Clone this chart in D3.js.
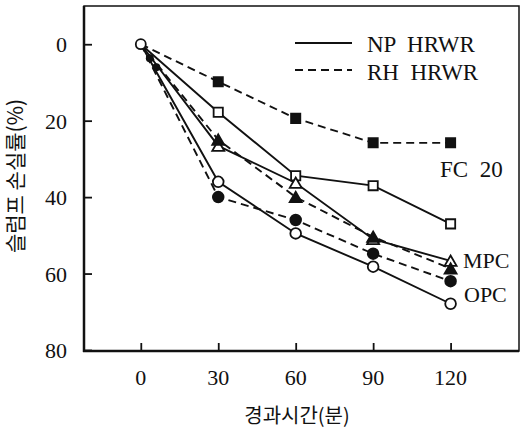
<!DOCTYPE html>
<html>
<head>
    <meta charset="utf-8">
    <title>Slump loss</title>
    <style>
        body { margin: 0; background: #fff; }
        text { font-family: "Liberation Serif", "DejaVu Serif", serif; fill: #111; }
        .kr { font-family: "Noto Sans CJK KR", sans-serif; }
    </style>
    <script src="https://d3js.org/d3.v7.min.js"></script>
</head>
<body>
<div id="chart"></div>
<script>
// elapsed time (min)
var times = [0, 30, 60, 90, 120];
var xTicks = [0, 30, 60, 90, 120];
var yTicks = [0, 20, 40, 60, 80];

// slump loss (%)
var opcNP = [0, 36, 49.5, 58.2, 67.9];
var opcRH = [0, 40, 46, 54.8, 62];
var mpcNP = [0, 26.6, 36.3, 51, 56.7];
var mpcRH = [0, 25, 40, 50.4, 58.7];
var fcNP  = [0, 17.8, 34.4, 37, 47];
var fcRH  = [0, 9.8, 19.4, 25.8, 25.8];

// the small filled marks just after the start
var earlyTimes = [3.5, 6];
var earlyVals = [3.7, 6];

var series = [
    { name: 'FC 20 NP', values: fcNP, dash: false, shape: 'square', filled: false },
    { name: 'FC 20 RH', values: fcRH, dash: true, shape: 'square', filled: true },
    { name: 'MPC NP', values: mpcNP, dash: false, shape: 'triangle', filled: false },
    { name: 'MPC RH', values: mpcRH, dash: true, shape: 'triangle', filled: true },
    { name: 'OPC NP', values: opcNP, dash: false, shape: 'circle', filled: false },
    { name: 'OPC RH', values: opcRH, dash: true, shape: 'circle', filled: true }
];

var W = 521, H = 430;
var svg = d3.select('#chart').append('svg')
    .attr('width', W).attr('height', H);

var x = d3.scaleLinear().domain([-22, 146.5]).range([84, 519]);
var y = d3.scaleLinear().domain([-10, 80]).range([6, 350]);

// frame
svg.append('rect')
    .attr('x', 84).attr('y', 6)
    .attr('width', 519 - 84).attr('height', 351 - 6)
    .attr('fill', 'none').attr('stroke', '#111').attr('stroke-width', 1.5);
svg.append('line').attr('x1', 84).attr('x2', 84).attr('y1', 6).attr('y2', 352)
    .attr('stroke', '#111').attr('stroke-width', 2.5);
svg.append('line').attr('x1', 83).attr('x2', 519).attr('y1', 351).attr('y2', 351)
    .attr('stroke', '#111').attr('stroke-width', 2.5);

// ticks (inward)
var xAxis = d3.axisTop(x).tickValues(xTicks).tickSize(8).tickFormat('');
var gx = svg.append('g').attr('transform', 'translate(0,351)').call(xAxis);
gx.select('.domain').remove();
gx.selectAll('line').attr('stroke', '#111').attr('stroke-width', 1.8);

var yAxis = d3.axisRight(y).tickValues(yTicks).tickSize(8).tickFormat('');
var gy = svg.append('g').attr('transform', 'translate(84,0)').call(yAxis);
gy.select('.domain').remove();
gy.selectAll('line').attr('stroke', '#111').attr('stroke-width', 1.8);

// tick labels
svg.selectAll('.xl').data(xTicks).enter().append('text')
    .attr('x', function(d) { return x(d); })
    .attr('y', 385)
    .attr('text-anchor', 'middle')
    .attr('font-size', 22)
    .text(function(d) { return d; });

svg.selectAll('.yl').data(yTicks).enter().append('text')
    .attr('x', 67)
    .attr('y', function(d) { return y(d) + 8; })
    .attr('text-anchor', 'end')
    .attr('font-size', 22)
    .text(function(d) { return d; });

// axis titles
svg.append('text').attr('class', 'kr')
    .attr('x', 297).attr('y', 423)
    .attr('text-anchor', 'middle')
    .attr('font-size', 20)
    .text('경과시간(분)');

svg.append('text').attr('class', 'kr')
    .attr('transform', 'translate(23,176) rotate(-90)')
    .attr('text-anchor', 'middle')
    .attr('font-size', 21)
    .text('슬럼프 손실률(%)');

// lines
var line = d3.line()
    .x(function(d, i) { return x(times[i]); })
    .y(function(d) { return y(d); });

series.forEach(function(s) {
    svg.append('path')
        .attr('d', line(s.values))
        .attr('fill', 'none')
        .attr('stroke', '#111')
        .attr('stroke-width', 1.9)
        .attr('stroke-dasharray', s.dash ? '8,5' : null);
});

// markers
var sym = { square: d3.symbolSquare, triangle: d3.symbolTriangle, circle: d3.symbolCircle };
var symSize = { square: 85, triangle: 62, circle: 90 };
series.forEach(function(s) {
    svg.selectAll(null).data(s.values.slice(1)).enter().append('path')
        .attr('d', d3.symbol().type(sym[s.shape]).size(symSize[s.shape]))
        .attr('transform', function(d, i) {
            return 'translate(' + x(times[i + 1]) + ',' + (y(d) + (s.shape === 'triangle' ? 1.5 : 0)) + ')';
        })
        .attr('fill', s.filled ? '#111' : '#fff')
        .attr('stroke', '#111')
        .attr('stroke-width', 1.8);
});

svg.selectAll('.early').data(earlyVals).enter().append('circle')
    .attr('cx', function(d, i) { return x(earlyTimes[i]); })
    .attr('cy', function(d) { return y(d); })
    .attr('r', 4)
    .attr('fill', '#111');

// start point
svg.append('circle')
    .attr('cx', x(0)).attr('cy', y(0)).attr('r', 5)
    .attr('fill', '#fff').attr('stroke', '#111').attr('stroke-width', 1.8);

// legend
svg.append('line').attr('x1', 295).attr('x2', 352).attr('y1', 43).attr('y2', 43)
    .attr('stroke', '#111').attr('stroke-width', 1.8);
svg.append('line').attr('x1', 295).attr('x2', 352).attr('y1', 70).attr('y2', 70)
    .attr('stroke', '#111').attr('stroke-width', 1.8).attr('stroke-dasharray', '8,5');
svg.append('text').attr('x', 367).attr('y', 52).attr('font-size', 23).attr('xml:space', 'preserve').text('NP  HRWR');
svg.append('text').attr('x', 367).attr('y', 80).attr('font-size', 23).attr('xml:space', 'preserve').text('RH  HRWR');

// group labels
svg.append('text').attr('x', 440).attr('y', 177).attr('font-size', 23).attr('xml:space', 'preserve').text('FC  20');
svg.append('text').attr('x', 463).attr('y', 268).attr('font-size', 22).text('MPC');
svg.append('text').attr('x', 464).attr('y', 302).attr('font-size', 22).text('OPC');
</script>
</body>
</html>
